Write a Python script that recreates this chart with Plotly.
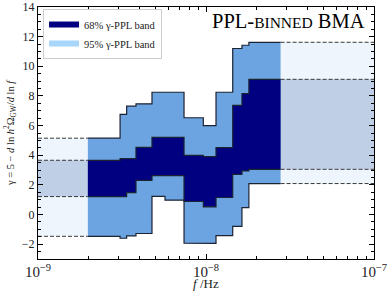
import plotly.graph_objects as go

# ---- data ----
f_edges = [1.98e-9, 3.08e-9, 3.37e-9, 3.83e-9, 4.77e-9, 5.70e-9, 7.40e-9,
           9.64e-9, 1.147e-8, 1.442e-8, 1.637e-8, 1.80e-8, 2.78e-8]
lo95 = [-1.47, -1.60, -1.44, -1.28, 1.22, 0.97, -1.93, -1.95, -1.42, -0.80, 0.47, 2.09]
lo68 = [1.21, 1.21, 1.48, 2.30, 2.63, 2.63, 0.88, 0.52, 1.15, 2.71, 2.94, 3.05]
up68 = [3.66, 3.77, 3.77, 4.53, 5.20, 5.20, 3.99, 3.91, 4.51, 7.36, 8.15, 9.12]
up95 = [5.15, 6.75, 7.31, 7.47, 8.25, 8.25, 6.53, 6.00, 8.25, 11.20, 11.42, 11.62]

x_range = [1e-9, 1e-7]
y_range = [-3, 14]
y_ticks = [-2, 0, 2, 4, 6, 8, 10, 12, 14]
legend_labels = ["68% γ-PPL band", "95% γ-PPL band"]
title_text = "PPL-<span style='font-size:15.5px'>BINNED</span> BMA"
x_title = "<i>f</i> /Hz"
y_title = "γ = 5 − <i>d</i> ln <i>h</i><sup>2</sup>Ω<sub>GW</sub>/<i>d</i> ln <i>f</i>"

C95 = "#6ba4e1"
C68 = "#000080"
C95_LEG = "#a7d6fa"
PALE = "#eef5fd"
GRAY = "#bfd0e6"
EDGE = "#1c2333"
FONT = "Liberation Serif"


def step(edges, vals):
    xs, ys = [], []
    for i, v in enumerate(vals):
        xs += [edges[i], edges[i + 1]]
        ys += [v, v]
    return xs, ys


def band(lo, hi):
    xu, yu = step(f_edges, hi)
    xl, yl = step(f_edges, lo)
    return xu + xl[::-1], yu + yl[::-1]


def rect(x0, x1, y0, y1):
    return [x0, x1, x1, x0, x0], [y0, y0, y1, y1, y0]


fig = go.Figure()

# extension regions (left & right)
for (x0, x1, i) in [(x_range[0], f_edges[0], 0), (f_edges[-1], x_range[1], -1)]:
    xs, ys = rect(x0, x1, lo95[i], up95[i])
    fig.add_trace(go.Scatter(x=xs, y=ys, fill="toself", fillcolor=PALE, mode="none",
                             showlegend=False, hoverinfo="skip"))
    xs, ys = rect(x0, x1, lo68[i], up68[i])
    fig.add_trace(go.Scatter(x=xs, y=ys, fill="toself", fillcolor=GRAY, mode="none",
                             showlegend=False, hoverinfo="skip"))
    for arr in (lo95, lo68, up68, up95):
        fig.add_trace(go.Scatter(x=[x0, x1], y=[arr[i], arr[i]], mode="lines",
                                 line=dict(color="#3a3a3a", width=1, dash="4px,2px"),
                                 showlegend=False, hoverinfo="skip"))

# bands
xs, ys = band(lo95, up95)
fig.add_trace(go.Scatter(x=xs, y=ys, fill="toself", fillcolor=C95, mode="none",
                         showlegend=False, hoverinfo="skip"))
xs, ys = band(lo68, up68)
fig.add_trace(go.Scatter(x=xs, y=ys, fill="toself", fillcolor=C68, mode="none",
                         showlegend=False, hoverinfo="skip"))
for arr in (lo95, lo68, up68, up95):
    xs, ys = step(f_edges, arr)
    fig.add_trace(go.Scatter(x=xs, y=ys, mode="lines", line=dict(color=EDGE, width=1.2),
                             showlegend=False, hoverinfo="skip"))

# legend entries
for name, col in zip(legend_labels, [C68, C95_LEG]):
    fig.add_trace(go.Scatter(x=[None, None, None], y=[None, None, None], fill="toself",
                             fillcolor=col, mode="none", name=name))

fig.add_annotation(text=title_text, xref="paper", yref="paper", x=0.978, y=0.995,
                   xanchor="right", yanchor="top", showarrow=False,
                   font=dict(family=FONT, size=20.5, color="black"))
fig.add_annotation(text=x_title, xref="paper", yref="paper", x=0.5, y=-0.097,
                   xanchor="center", yanchor="middle", showarrow=False,
                   font=dict(family=FONT, size=13, color="#222"))
fig.add_annotation(text=y_title, xref="paper", yref="paper", x=-0.083, y=0.5,
                   xanchor="center", yanchor="middle", showarrow=False, textangle=-90,
                   font=dict(family=FONT, size=10.5, color="#222"))

axis_common = dict(showline=True, linecolor="black", linewidth=1, mirror="allticks",
                   ticks="inside", ticklen=5, tickcolor="black", showgrid=False,
                   zeroline=False, automargin=False,
                   tickfont=dict(family=FONT, size=12, color="#222"))

fig.update_xaxes(type="log", range=[-9, -7], dtick=1, exponentformat="power",
                 minor=dict(ticks="inside", ticklen=3, tickcolor="black", dtick="D1",
                            showgrid=False),
                 **axis_common)
fig.update_yaxes(range=y_range, tickvals=y_ticks,
                 minor=dict(ticks="inside", ticklen=3, tickcolor="black", dtick=0.5,
                            showgrid=False),
                 **axis_common)

fig.update_layout(
    width=389, height=292,
    margin=dict(l=38, r=15, t=7, b=33, autoexpand=False),
    plot_bgcolor="white", paper_bgcolor="white",
    font=dict(family=FONT, color="#222"),
    legend=dict(x=0.015, y=0.992, xanchor="left", yanchor="top",
                bgcolor="white", bordercolor="#cccccc", borderwidth=1,
                font=dict(family=FONT, size=10.5), itemwidth=30,
                tracegroupgap=0),
)

fig.write_html("out.html", config={"displayModeBar": False},
               post_script="document.body.style.margin='0';")
